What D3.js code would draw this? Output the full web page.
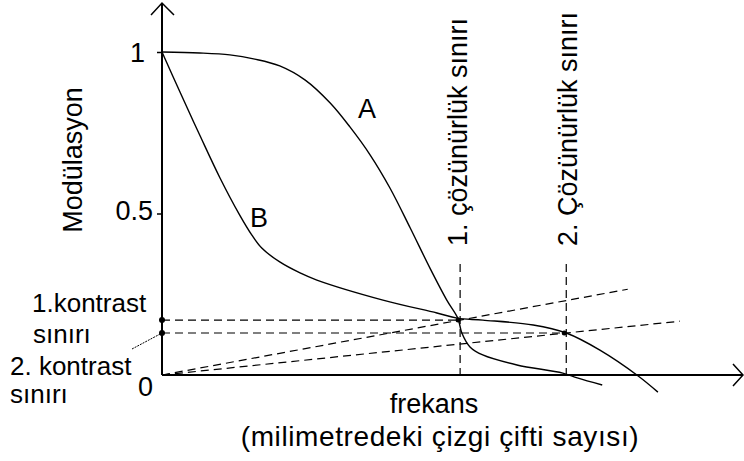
<!DOCTYPE html>
<html>
<head>
<meta charset="utf-8">
<script src="https://cdn.jsdelivr.net/npm/d3@7"></script>
<style>
  body { margin: 0; background: #fff; }
  svg text { font-family: "Liberation Sans", Arial, sans-serif; fill: #000; }
</style>
</head>
<body>
<div id="chart"></div>
<script>
// curve A and B (frequency, modulation)
var curveA = [
  [0, 1.0], [6.5, 0.997], [11.7, 0.991], [16.0, 0.978], [20.3, 0.957],
  [24.7, 0.913], [29.0, 0.842], [32.4, 0.768], [35.9, 0.681], [39.3, 0.579],
  [42.8, 0.455], [46.2, 0.331], [49.1, 0.232], [51.0, 0.176], [51.7, 0.13],
  [53.1, 0.087], [55.3, 0.062], [61.2, 0.031], [69.1, 0.006], [71.6, -0.009],
  [75.9, -0.031]
];
var curveB = [
  [0, 1.0], [3.1, 0.876], [6.5, 0.743], [10.0, 0.61], [13.4, 0.495],
  [15.5, 0.433], [17.2, 0.393], [20.3, 0.35], [23.8, 0.316], [26.7, 0.294],
  [38.1, 0.232], [47.4, 0.192], [50.9, 0.176], [55.3, 0.17], [64.0, 0.155],
  [69.7, 0.13], [75.5, 0.077], [82.1, -0.003], [85.5, -0.053]
];
var yTicks = [0.5, 1];
var yTickLabels = ["0.5", "1"];
var resLimits = [51.4, 69.7];        // 1. and 2. resolution limit (frequency)
var contrastLimits = [0.17, 0.13];   // 1. and 2. contrast limit (modulation)
var rayEnds = [80.3, 89.3];          // where the dashed rays through the limits stop
var resLabels = ["1. çözünürlük sınırı", "2. Çözünürlük sınırı"];
var curveLabels = ["A", "B"];

var width = 744, height = 461;
var x = d3.scaleLinear().domain([0, 100]).range([162, 742]);
var y = d3.scaleLinear().domain([0, 1]).range([375, 52]);

var svg = d3.select("#chart").append("svg")
  .attr("width", width)
  .attr("height", height);

var fs = 27;

// axes
svg.append("line").attr("x1", x(0)).attr("x2", 743).attr("y1", y(0)).attr("y2", y(0))
  .style("stroke", "#000").style("stroke-width", 2);
svg.append("line").attr("x1", x(0)).attr("x2", x(0)).attr("y1", y(0)).attr("y2", 3)
  .style("stroke", "#000").style("stroke-width", 2);
// arrow heads
svg.append("path").attr("d", "M151,15L" + x(0) + ",3L174,15")
  .style("fill", "none").style("stroke", "#000").style("stroke-width", 1.5);
svg.append("path").attr("d", "M733,364L743," + y(0) + "L733,386")
  .style("fill", "none").style("stroke", "#000").style("stroke-width", 1.5);

var yAxis = d3.axisLeft(y).tickValues(yTicks).tickSize(5).tickFormat("");
var gy = svg.append("g").attr("transform", "translate(" + x(0) + ",0)").call(yAxis);
gy.select(".domain").remove();
gy.selectAll("line").style("stroke-width", 1.5);

// tick labels
svg.append("text").attr("x", 145).attr("y", y(1) + 10).attr("text-anchor", "end")
  .style("font-size", fs + "px").text(yTickLabels[1]);
svg.append("text").attr("x", 153).attr("y", y(0.5) + 6).attr("text-anchor", "end")
  .style("font-size", fs + "px").text(yTickLabels[0]);
svg.append("text").attr("x", 138).attr("y", y(0) + 21)
  .style("font-size", fs + "px").text("0");

// axis titles
svg.append("text").attr("transform", "translate(82,160) rotate(-90)")
  .attr("text-anchor", "middle").style("font-size", fs + "px").text("Modülasyon");
svg.append("text").attr("x", 434).attr("y", 413).attr("text-anchor", "middle")
  .style("font-size", fs + "px").text("frekans");
svg.append("text").attr("x", 440).attr("y", 446).attr("text-anchor", "middle")
  .style("font-size", "28px").style("letter-spacing", "0.6px")
  .text("(milimetredeki çizgi çifti sayısı)");

var dash = "8,5";

// dashed rays from the origin through each limit point
resLimits.forEach(function(r, i) {
  var slope = contrastLimits[i] / r;
  svg.append("line")
    .attr("x1", x(0)).attr("y1", y(0))
    .attr("x2", x(rayEnds[i])).attr("y2", y(slope * rayEnds[i]))
    .style("stroke", "#000").style("stroke-width", 1.2).style("stroke-dasharray", dash);
});

// horizontal contrast lines
contrastLimits.forEach(function(c, i) {
  svg.append("line")
    .attr("x1", x(0)).attr("y1", y(c))
    .attr("x2", x(resLimits[i])).attr("y2", y(c))
    .style("stroke", "#000").style("stroke-width", 1.2).style("stroke-dasharray", dash);
});

// vertical resolution lines
resLimits.forEach(function(r) {
  svg.append("line")
    .attr("x1", x(r)).attr("y1", 264)
    .attr("x2", x(r)).attr("y2", y(0))
    .style("stroke", "#000").style("stroke-width", 1.2).style("stroke-dasharray", dash);
});

// curves
var line = d3.line()
  .x(function(d) { return x(d[0]); })
  .y(function(d) { return y(d[1]); })
  .curve(d3.curveCatmullRom.alpha(0.5));

[curveA, curveB].forEach(function(c) {
  svg.append("path").datum(c).attr("d", line)
    .style("fill", "none").style("stroke", "#000").style("stroke-width", 1.4);
});

// dots
contrastLimits.forEach(function(c) {
  svg.append("circle").attr("cx", x(0)).attr("cy", y(c)).attr("r", 3).style("fill", "#000");
});
resLimits.forEach(function(r, i) {
  svg.append("circle").attr("cx", x(r) - 2).attr("cy", y(contrastLimits[i])).attr("r", 2.5).style("fill", "#000");
});

// connector from the label to the second contrast limit
svg.append("line").attr("x1", 132).attr("y1", 349).attr("x2", x(0)).attr("y2", y(contrastLimits[1]))
  .style("stroke", "#000").style("stroke-width", 1).style("stroke-dasharray", "2,1");

// contrast labels
var leftLabels = [
  { t: "1.kontrast", x: 32, y: 312 },
  { t: "sınırı", x: 33, y: 343 },
  { t: "2. kontrast", x: 10, y: 375 },
  { t: "sınırı", x: 10, y: 403 }
];
leftLabels.forEach(function(l) {
  svg.append("text").attr("x", l.x).attr("y", l.y).style("font-size", "26px").text(l.t);
});

// resolution labels (rotated)
var resLabelX = [467, 577];
resLabels.forEach(function(t, i) {
  svg.append("text")
    .attr("transform", "translate(" + resLabelX[i] + ",246) rotate(-90)")
    .style("font-size", fs + "px").text(t);
});

// curve names
svg.append("text").attr("x", 367).attr("y", 118).attr("text-anchor", "middle")
  .style("font-size", fs + "px").text(curveLabels[0]);
svg.append("text").attr("x", 250).attr("y", 227)
  .style("font-size", fs + "px").text(curveLabels[1]);
</script>
</body>
</html>
